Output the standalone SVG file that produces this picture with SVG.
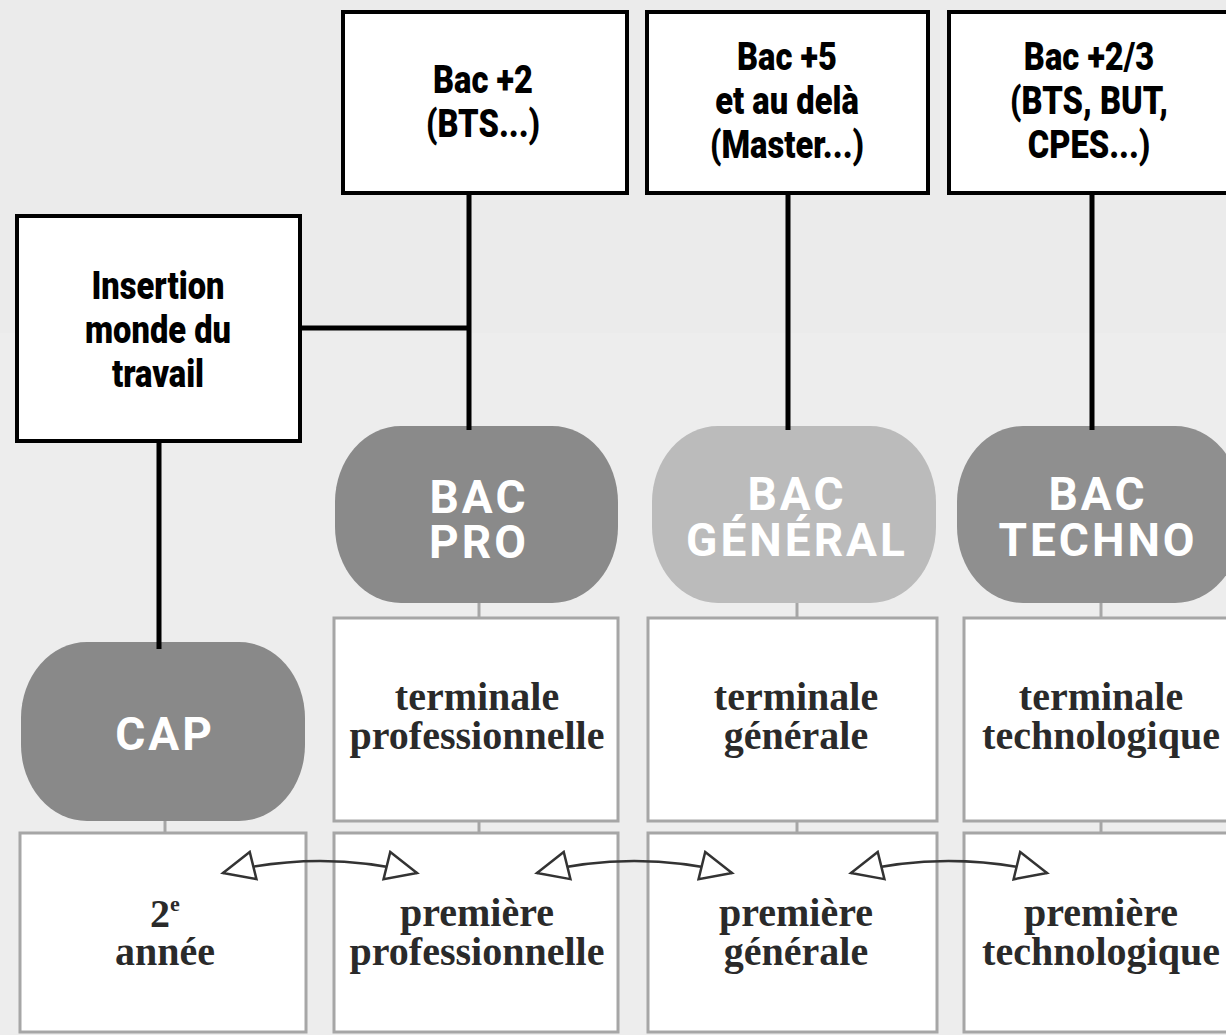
<svg xmlns="http://www.w3.org/2000/svg" width="1226" height="1035" viewBox="0 0 1226 1035">
<defs>
<style>
.topbox { fill:#ffffff; stroke:#000000; stroke-width:4; }
.top { font-family:Roboto,"Liberation Sans",sans-serif; font-weight:900; font-size:38px; text-anchor:middle; fill:#000000; }
.pillbg { stroke:none; }
.pill { font-family:Roboto,"Liberation Sans",sans-serif; font-weight:bold; font-size:46px; fill:#ffffff; letter-spacing:3px; text-anchor:middle; }
.lvlbox { fill:#ffffff; stroke:#a6a6a6; stroke-width:3; }
.lvl { font-family:"Liberation Serif",serif; font-weight:bold; font-size:40px; fill:#2a2a2a; text-anchor:middle; }
.link { stroke:#000000; stroke-width:5; fill:none; }
.stub { stroke:#a6a6a6; stroke-width:3; fill:none; }
.arrow { stroke:#333333; stroke-width:2.5; fill:none; marker-start:url(#tri); marker-end:url(#tri); }
</style>
<marker id="tri" viewBox="-2 -16 36 32" refX="31" refY="0" markerWidth="36" markerHeight="32" markerUnits="userSpaceOnUse" orient="auto-start-reverse">
<path d="M0,-14 L31,0 L0,14 Z" fill="#ffffff" stroke="#333333" stroke-width="2.5"/>
</marker>
</defs>

<rect x="0" y="0" width="1226" height="1035" fill="#ebebeb"/>
<rect x="0" y="333" width="1226" height="702" fill="#ededed"/>

<g id="node-bac2">
<rect class="topbox" x="343" y="12" width="284" height="181"/>
<text class="top" transform="translate(483,93) scale(0.86,1)">Bac +2</text>
<text class="top" transform="translate(483,137) scale(0.86,1)">(BTS...)</text>
</g>
<g id="node-bac5">
<rect class="topbox" x="647" y="12" width="281" height="181"/>
<text class="top" transform="translate(787,70) scale(0.86,1)">Bac +5</text>
<text class="top" transform="translate(787,114) scale(0.86,1)">et au delà</text>
<text class="top" transform="translate(787,158) scale(0.86,1)">(Master...)</text>
</g>
<g id="node-bac23">
<rect class="topbox" x="949" y="12" width="300" height="181"/>
<text class="top" transform="translate(1089,70) scale(0.86,1)">Bac +2/3</text>
<text class="top" transform="translate(1089,114) scale(0.86,1)">(BTS, BUT,</text>
<text class="top" transform="translate(1089,158) scale(0.86,1)">CPES...)</text>
</g>
<g id="node-insertion">
<rect class="topbox" x="17" y="216" width="283" height="225"/>
<text class="top" transform="translate(158,299) scale(0.86,1)">Insertion</text>
<text class="top" transform="translate(158,343) scale(0.86,1)">monde du</text>
<text class="top" transform="translate(158,387) scale(0.86,1)">travail</text>
</g>

<g id="node-bac-pro">
<rect class="pillbg" x="335" y="426" width="283" height="177" rx="66" ry="76" fill="#8a8a8a"/>
<text class="pill" x="479" y="513">BAC</text>
<text class="pill" x="479" y="558">PRO</text>
</g>
<g id="node-bac-general">
<rect class="pillbg" x="652" y="426" width="284" height="177" rx="66" ry="76" fill="#bbbbbb"/>
<text class="pill" x="797" y="510">BAC</text>
<text class="pill" x="797" y="556">GÉNÉRAL</text>
</g>
<g id="node-bac-techno">
<rect class="pillbg" x="957" y="426" width="284" height="177" rx="66" ry="76" fill="#8f8f8f"/>
<text class="pill" x="1098" y="510">BAC</text>
<text class="pill" x="1098" y="556">TECHNO</text>
</g>
<g id="node-cap">
<rect class="pillbg" x="21" y="642" width="284" height="179" rx="66" ry="76" fill="#898989"/>
<text class="pill" x="165" y="750">CAP</text>
</g>

<g id="node-terminale-pro">
<rect class="lvlbox" x="334" y="618" width="284" height="203"/>
<text class="lvl" x="477" y="710">terminale</text>
<text class="lvl" x="477" y="749">professionnelle</text>
</g>
<g id="node-terminale-gen">
<rect class="lvlbox" x="648" y="618" width="289" height="203"/>
<text class="lvl" x="796" y="710">terminale</text>
<text class="lvl" x="796" y="749">générale</text>
</g>
<g id="node-terminale-techno">
<rect class="lvlbox" x="964" y="618" width="290" height="203"/>
<text class="lvl" x="1101" y="710">terminale</text>
<text class="lvl" x="1101" y="749">technologique</text>
</g>
<g id="node-cap-2e">
<rect class="lvlbox" x="20" y="833" width="286" height="199"/>
<text class="lvl" x="165" y="927">2<tspan font-size="22" dy="-16">e</tspan></text>
<text class="lvl" x="165" y="965">année</text>
</g>
<g id="node-premiere-pro">
<rect class="lvlbox" x="334" y="833" width="284" height="199"/>
<text class="lvl" x="477" y="926">première</text>
<text class="lvl" x="477" y="965">professionnelle</text>
</g>
<g id="node-premiere-gen">
<rect class="lvlbox" x="648" y="833" width="289" height="199"/>
<text class="lvl" x="796" y="926">première</text>
<text class="lvl" x="796" y="965">générale</text>
</g>
<g id="node-premiere-techno">
<rect class="lvlbox" x="964" y="833" width="290" height="199"/>
<text class="lvl" x="1101" y="926">première</text>
<text class="lvl" x="1101" y="965">technologique</text>
</g>

<g id="connectors">
<line class="link" x1="469" y1="193" x2="469" y2="430"/>
<line class="link" x1="300" y1="328" x2="469" y2="328"/>
<line class="link" x1="788" y1="193" x2="788" y2="430"/>
<line class="link" x1="1092" y1="193" x2="1092" y2="430"/>
<line class="link" x1="159" y1="441" x2="159" y2="649"/>
<line class="stub" x1="479" y1="603" x2="479" y2="618"/>
<line class="stub" x1="797" y1="603" x2="797" y2="618"/>
<line class="stub" x1="1101" y1="603" x2="1101" y2="618"/>
<line class="stub" x1="165" y1="821" x2="165" y2="833"/>
<line class="stub" x1="479" y1="821" x2="479" y2="833"/>
<line class="stub" x1="797" y1="821" x2="797" y2="833"/>
<line class="stub" x1="1101" y1="821" x2="1101" y2="833"/>
<path class="arrow" d="M223,873 Q320,849 417,873"/>
<path class="arrow" d="M537,873 Q634,849 732,873"/>
<path class="arrow" d="M851,873 Q948,849 1047,873"/>
</g>
</svg>
